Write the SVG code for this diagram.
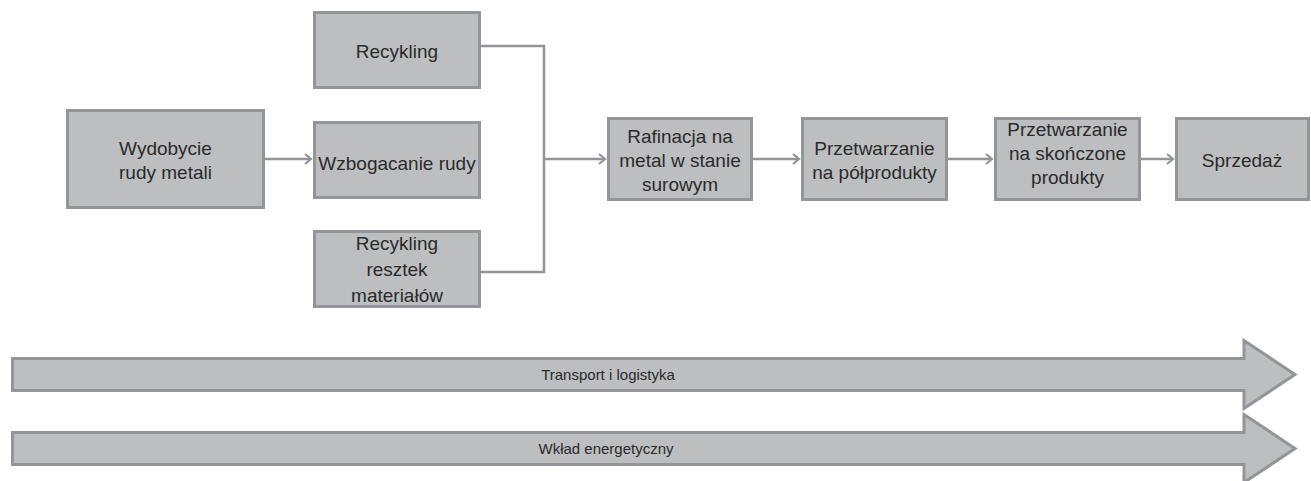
<svg xmlns="http://www.w3.org/2000/svg" width="1311" height="481" viewBox="0 0 1311 481">
<style>
.box{fill:#BCBEC0;stroke:#939598;stroke-width:3}
.lbl{font-family:"Liberation Sans",Arial,sans-serif;font-size:19px;fill:#2B2B2B;text-anchor:middle}
.small{font-family:"Liberation Sans",Arial,sans-serif;font-size:15px;fill:#2B2B2B;text-anchor:middle}
.con{fill:none;stroke:#939598;stroke-width:2.5}
.band{fill:#BCBEC0;stroke:#939598;stroke-width:3;stroke-linejoin:miter}
</style>
<defs>
<marker id="arr" markerUnits="userSpaceOnUse" markerWidth="10" markerHeight="14" refX="7" refY="6" orient="auto">
<path d="M1,1 L7,6 L1,11" fill="none" stroke="#939598" stroke-width="2.2"/>
</marker>
</defs>
<rect width="1311" height="481" fill="#FFFFFF"/>
<g id="connectors">
<path class="con" d="M265,159 H311" marker-end="url(#arr)"/>
<path class="con" d="M481,46 H544 V272 H481"/>
<path class="con" d="M544,159 H605" marker-end="url(#arr)"/>
<path class="con" d="M753,159 H799" marker-end="url(#arr)"/>
<path class="con" d="M948,159 H992" marker-end="url(#arr)"/>
<path class="con" d="M1141,159 H1173" marker-end="url(#arr)"/>
</g>
<g id="n-wydobycie">
<rect class="box" x="67.5" y="110.5" width="196" height="97"/>
<text class="lbl" x="165.5" y="155">Wydobycie</text>
<text class="lbl" x="165.5" y="179">rudy metali</text>
</g>
<g id="n-recykling">
<rect class="box" x="314.5" y="12.5" width="165" height="75"/>
<text class="lbl" x="397" y="58">Recykling</text>
</g>
<g id="n-wzbogacanie">
<rect class="box" x="314.5" y="122.5" width="165" height="75"/>
<text class="lbl" x="397" y="170">Wzbogacanie rudy</text>
</g>
<g id="n-resztki">
<rect class="box" x="314.5" y="231.5" width="165" height="75"/>
<text class="lbl" x="397" y="250">Recykling</text>
<text class="lbl" x="397" y="276">resztek</text>
<text class="lbl" x="397" y="302">materiałów</text>
</g>
<g id="n-rafinacja">
<rect class="box" x="608.5" y="118.5" width="143" height="81"/>
<text class="lbl" x="680" y="143">Rafinacja na</text>
<text class="lbl" x="680" y="167">metal w stanie</text>
<text class="lbl" x="680" y="191">surowym</text>
</g>
<g id="n-polprodukty">
<rect class="box" x="802.5" y="118.5" width="144" height="81"/>
<text class="lbl" x="874.5" y="155">Przetwarzanie</text>
<text class="lbl" x="874.5" y="179">na półprodukty</text>
</g>
<g id="n-skonczone">
<rect class="box" x="995.5" y="118.5" width="144" height="81"/>
<text class="lbl" x="1067.5" y="136">Przetwarzanie</text>
<text class="lbl" x="1067.5" y="160">na skończone</text>
<text class="lbl" x="1067.5" y="184">produkty</text>
</g>
<g id="n-sprzedaz">
<rect class="box" x="1176.5" y="118.5" width="132" height="81"/>
<text class="lbl" x="1242" y="167">Sprzedaż</text>
</g>
<g id="n-transport">
<polygon class="band" points="12.5,358.5 1244,358.5 1244,340.5 1295,374.5 1244,408.5 1244,390.5 12.5,390.5"/>
<text class="small" x="608" y="380">Transport i logistyka</text>
</g>
<g id="n-energia">
<polygon class="band" points="12.5,432.5 1244,432.5 1244,414.5 1295,448.5 1244,482.5 1244,464.5 12.5,464.5"/>
<text class="small" x="606" y="454">Wkład energetyczny</text>
</g>
</svg>
